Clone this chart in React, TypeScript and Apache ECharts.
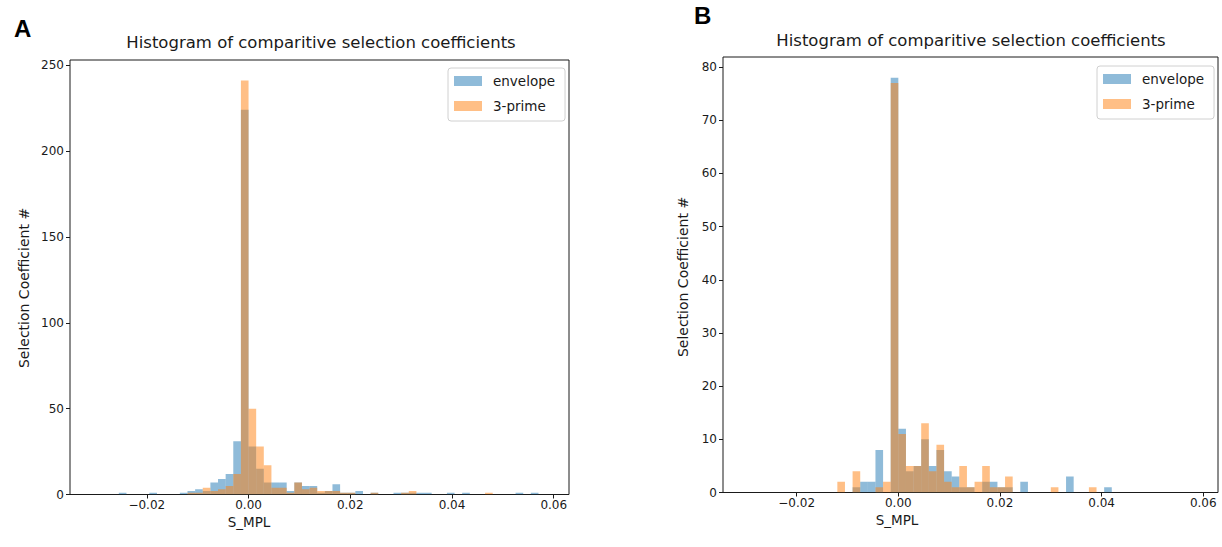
import React, { useEffect, useRef } from "react";
import * as echarts from "echarts";

// Histogram bins (shared width), counts
const BIN_WIDTH = 0.0015;

const binStartA = -0.0255;
const envelopeA = [1,0,0,0,1,0,0,0,1,2,3,2,7,9,12,31,224,28,15,7,7,7,2,7,5,5,1,2,6,1,1,2,0,1,0,0,1,1,1,1,1,0,0,1,0,1,0,0,0,0,0,0,1,0,1];
const threePrimeA = [0,0,0,0,0,0,0,0,0,1,1,4,2,3,5,12,241,50,28,17,4,4,1,7,3,4,2,2,2,1,1,0,0,1,0,0,0,1,2,0,0,0,0,0,0,0,0,0,1,0,0,0,0,0,0];

const binStartB = -0.012;
const envelopeB = [0,0,1,2,2,8,0,78,12,4,5,10,5,8,4,3,1,1,0,2,2,1,1,0,2,0,0,0,0,0,3,0,0,0,0,1];
const threePrimeB = [2,0,4,0,0,1,2,77,11,5,5,13,4,9,2,1,5,1,2,5,1,1,3,0,0,0,0,0,1,0,0,0,0,1,0,0];

const xTicks = [-0.02, 0, 0.02, 0.04, 0.06];
const yTicksA = [0, 50, 100, 150, 200, 250];
const yTicksB = [0, 10, 20, 30, 40, 50, 60, 70, 80];

const seriesNames = ["envelope", "3-prime"];
const titleText = "Histogram of comparitive selection coefficients";
const xLabel = "S_MPL";
const yLabel = "Selection Coefficient #";

const BLUE = "rgba(31,119,180,0.5)";
const ORANGE = "rgba(255,127,14,0.5)";
const INK = "#1a1a1a";
const FONT = "DejaVu Sans";

function toBins(start: number, counts: number[]) {
  const out: number[][] = [];
  counts.forEach((c, i) => {
    if (c > 0) out.push([start + i * BIN_WIDTH, start + (i + 1) * BIN_WIDTH, c]);
  });
  return out;
}

function fmtX(v: number) {
  const s = Math.abs(v).toFixed(2);
  return v < -1e-9 ? "\u2212" + s : s;
}

function histSeries(name: string, color: string, idx: number, data: number[][]) {
  return {
    type: "custom",
    name,
    xAxisIndex: idx,
    yAxisIndex: idx,
    clip: true,
    itemStyle: { color },
    encode: { x: [0, 1], y: 2 },
    data,
    renderItem: (params: any, api: any) => {
      const p0 = api.coord([api.value(0), 0]);
      const p1 = api.coord([api.value(1), api.value(2)]);
      return {
        type: "rect",
        shape: { x: p0[0], y: p1[1], width: p1[0] - p0[0], height: p0[1] - p1[1] },
        style: { fill: color },
      };
    },
  };
}

function xAxis(idx: number, min: number, max: number) {
  return {
    type: "value",
    gridIndex: idx,
    min,
    max,
    axisLine: { show: false, onZero: false },
    splitLine: { show: false },
    axisTick: { show: true, length: 4, customValues: xTicks, lineStyle: { color: INK } },
    axisLabel: {
      customValues: xTicks,
      formatter: fmtX,
      fontFamily: FONT,
      fontSize: 12,
      color: INK,
      margin: 4,
    },
  };
}

function yAxis(idx: number, max: number, ticks: number[]) {
  return {
    type: "value",
    gridIndex: idx,
    min: 0,
    max,
    axisLine: { show: false, onZero: false },
    splitLine: { show: false },
    axisTick: { show: true, length: 4, customValues: ticks, lineStyle: { color: INK } },
    axisLabel: {
      customValues: ticks,
      fontFamily: FONT,
      fontSize: 12,
      color: INK,
      margin: 6,
    },
  };
}

function legend(left: number, top: number) {
  return {
    data: seriesNames,
    orient: "vertical",
    left,
    top,
    icon: "rect",
    itemWidth: 28,
    itemHeight: 10,
    itemGap: 11,
    padding: [6, 10, 8, 6],
    borderColor: "#d0d0d0",
    borderWidth: 1,
    borderRadius: 3,
    backgroundColor: "#ffffff",
    selectedMode: false,
    textStyle: { fontFamily: FONT, fontSize: 13.5, color: INK, padding: [0, 0, 0, 6] },
  };
}

function label(text: string, x: number, y: number, size: number, rotate = 0) {
  return {
    type: "text",
    x,
    y,
    rotation: rotate,
    style: {
      text,
      fontFamily: FONT,
      fontSize: size,
      fill: INK,
      align: "center",
      verticalAlign: "middle",
    },
  };
}

export default function App() {
  const ref = useRef<HTMLDivElement>(null);
  useEffect(() => {
    if (!ref.current) return;
    const chart = echarts.init(ref.current, null, { renderer: "svg" });
    chart.setOption({
      animation: false,
      backgroundColor: "#ffffff",
      title: [
        { text: "A", left: 9, top: 11, textStyle: { fontFamily: "Liberation Sans", fontWeight: "bold", fontSize: 24, color: "#000" } },
        { text: "B", left: 689, top: -2, textStyle: { fontFamily: "Liberation Sans", fontWeight: "bold", fontSize: 24, color: "#000" } },
      ],
      graphic: [
        label(titleText, 321, 42, 16.5),
        label(titleText, 971, 40, 16.5),
        label(xLabel, 249, 522, 13.5),
        label(xLabel, 897, 520, 13.5),
        label(yLabel, 24, 288, 14, Math.PI / 2),
        label(yLabel, 683, 277, 14, Math.PI / 2),
      ],
      legend: [legend(448, 68), legend(1097, 66)],
      grid: [
        { left: 70, top: 60, width: 499, height: 434.5, show: true, borderColor: INK, borderWidth: 1, backgroundColor: "transparent" },
        { left: 723, top: 57, width: 495, height: 435.5, show: true, borderColor: INK, borderWidth: 1, backgroundColor: "transparent" },
      ],
      xAxis: [xAxis(0, -0.0351, 0.063), xAxis(1, -0.0345, 0.0629)],
      yAxis: [yAxis(0, 253, yTicksA), yAxis(1, 81.9, yTicksB)],
      series: [
        histSeries(seriesNames[0], BLUE, 0, toBins(binStartA, envelopeA)),
        histSeries(seriesNames[1], ORANGE, 0, toBins(binStartA, threePrimeA)),
        histSeries(seriesNames[0], BLUE, 1, toBins(binStartB, envelopeB)),
        histSeries(seriesNames[1], ORANGE, 1, toBins(binStartB, threePrimeB)),
      ],
    });
    return () => chart.dispose();
  }, []);
  return (
    <div
      ref={ref}
      style={{ position: "absolute", left: 0, top: 0, width: 1222, height: 547 }}
    />
  );
}
